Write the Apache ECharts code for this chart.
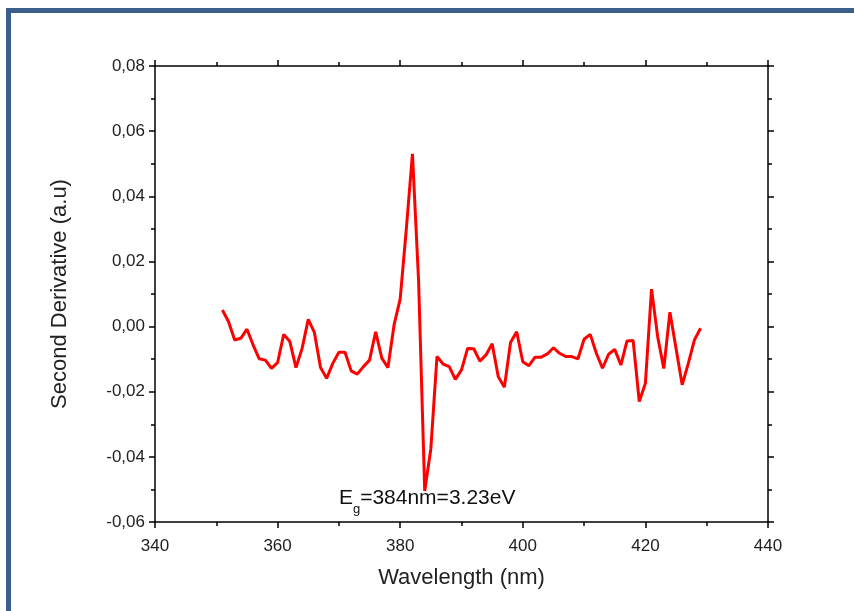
<!DOCTYPE html>
<html>
<head>
<meta charset="utf-8">
<script src="https://cdn.jsdelivr.net/npm/echarts@6/dist/echarts.min.js"></script>
<style>
  html, body { margin: 0; padding: 0; background: #fff; }
  #chart { width: 854px; height: 611px; }
</style>
</head>
<body>
<div id="chart"></div>
<script>
// Second-derivative spectrum, sampled every 1 nm
const wavelength = [];
for (let w = 351; w <= 429; w++) wavelength.push(w);

const secondDerivative = [
  0.0051, 0.0015, -0.0041, -0.0036, -0.0008, -0.0056, -0.0099, -0.0103, -0.0128, -0.0111,
  -0.0024, -0.0046, -0.0126, -0.0067, 0.0022, -0.0018, -0.0126, -0.0159, -0.0113, -0.0079,
  -0.0079, -0.0136, -0.0146, -0.0123, -0.0103, -0.0016, -0.0097, -0.0126, 0.0005, 0.0085,
  0.0300, 0.0530, 0.0140, -0.0505, -0.0375, -0.0092, -0.0115, -0.0123, -0.0162, -0.0133,
  -0.0067, -0.0068, -0.0106, -0.0087, -0.0053, -0.0154, -0.0186, -0.0049, -0.0016, -0.0108,
  -0.0120, -0.0094, -0.0094, -0.0084, -0.0065, -0.0082, -0.0092, -0.0092, -0.0099, -0.0039,
  -0.0024, -0.0082, -0.0128, -0.0085, -0.0070, -0.0118, -0.0044, -0.0043, -0.0230, -0.0174,
  0.0115, -0.0031, -0.0129, 0.0044, -0.0067, -0.0179, -0.0113, -0.0041, -0.0005
];

const xRange = { min: 340, max: 440, interval: 20 };
const yRange = { min: -0.06, max: 0.08, interval: 0.02 };

const gapLabel = { x: 384.4, y: -0.0528, main: 'E', sub: 'g', rest: '=384nm=3.23eV' };

const points = wavelength.map((w, i) => [w, secondDerivative[i]]);

const FONT = "'Liberation Sans', Arial, sans-serif";
const commaFmt = v => (Math.abs(v) < 1e-9 ? 0 : v).toFixed(2).replace('.', ',');

const axisLine = { show: true, onZero: false, lineStyle: { color: '#000', width: 1.5 } };
const axisTick = { show: true, inside: false, length: 6, lineStyle: { color: '#000', width: 1.5 } };
const minorTick = { show: true, splitNumber: 2, length: 4, lineStyle: { color: '#000', width: 1.5 } };

const chart = echarts.init(document.getElementById('chart'));
chart.setOption({
  animation: false,
  backgroundColor: '#fff',
  graphic: [{
    type: 'rect',
    shape: { x: 8.5, y: 10.5, width: 900, height: 700 },
    style: { fill: 'none', stroke: '#3d5f8e', lineWidth: 5 },
    silent: true
  }],
  grid: { left: 155, right: 86, top: 66, bottom: 89 },
  xAxis: [{
    type: 'value', position: 'bottom',
    min: xRange.min, max: xRange.max, interval: xRange.interval,
    name: 'Wavelength (nm)', nameLocation: 'middle', nameGap: 45,
    nameTextStyle: { fontFamily: FONT, fontSize: 22, color: '#222' },
    axisLine, axisTick, minorTick,
    axisLabel: { fontFamily: FONT, fontSize: 17, color: '#222', margin: 16 },
    splitLine: { show: false }
  }, {
    type: 'value', position: 'top',
    min: xRange.min, max: xRange.max, interval: xRange.interval,
    axisLine, axisTick, minorTick,
    axisLabel: { show: false },
    splitLine: { show: false }
  }],
  yAxis: [{
    type: 'value', position: 'left',
    min: yRange.min, max: yRange.max, interval: yRange.interval,
    name: 'Second Derivative (a.u)', nameLocation: 'middle', nameGap: 84,
    nameTextStyle: { fontFamily: FONT, fontSize: 22, color: '#222' },
    axisLine, axisTick, minorTick,
    axisLabel: { fontFamily: FONT, fontSize: 17, color: '#222', margin: 10, formatter: commaFmt },
    splitLine: { show: false }
  }, {
    type: 'value', position: 'right',
    min: yRange.min, max: yRange.max, interval: yRange.interval,
    axisLine, axisTick, minorTick,
    axisLabel: { show: false },
    splitLine: { show: false }
  }],
  series: [{
    type: 'line',
    data: points,
    showSymbol: false,
    symbol: 'none',
    lineStyle: { color: '#ff0000', width: 3 },
    itemStyle: { color: '#ff0000' },
    markPoint: {
      symbol: 'circle', symbolSize: 0,
      data: [{ coord: [gapLabel.x, gapLabel.y] }],
      label: {
        show: true, position: 'inside',
        formatter: '{a|' + gapLabel.main + '}{b|' + gapLabel.sub + '}{a|' + gapLabel.rest + '}',
        rich: {
          a: { fontFamily: FONT, fontSize: 21, color: '#111', lineHeight: 24 },
          b: { fontFamily: FONT, fontSize: 13, color: '#111', padding: [22, 0, 0, 0] }
        }
      }
    }
  }]
});
</script>
</body>
</html>
